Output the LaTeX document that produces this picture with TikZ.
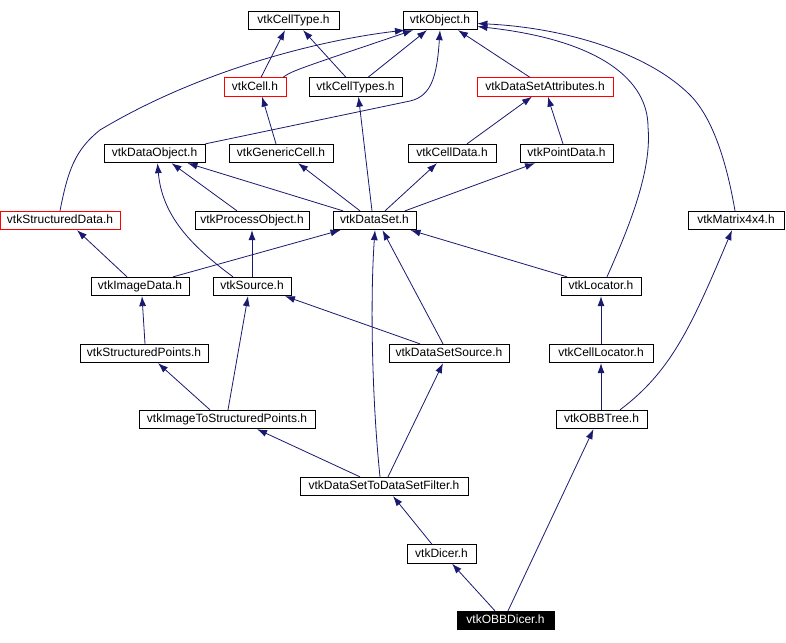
\documentclass[tikz,border=0pt]{standalone}
\usepackage{fontspec}
\setmainfont{Liberation Sans}
\usetikzlibrary{arrows.meta}

\definecolor{edgeblue}{HTML}{191970}

\tikzset{
    hdr/.style={draw=black, line width=0.8pt, fill=white, inner sep=0pt,
        minimum height=18.5pt, text height=9pt, text depth=3pt,
        font=\fontsize{12}{14}\selectfont},
    hdrred/.style={hdr, draw=red},
    hdrtop/.style={hdr, fill=black, text=white},
    dep/.style={draw=edgeblue, line width=0.8pt, -{Latex[length=10pt,width=7pt]}},
}

\begin{document}
\begin{tikzpicture}[x=1pt, y=-1pt]

    % --- Marco de la imagen (786 x 642) ---
    \useasboundingbox (0,0) rectangle (786,642);

    % =========================================================================
    % CABECERAS (una fila por nivel del grafo de inclusión)
    % =========================================================================
    \node[hdr, minimum width=91pt]     (ctype)  at (293.5,20.5) {vtkCellType.h};
    \node[hdr, minimum width=74pt]     (obj)    at (440,20.5)   {vtkObject.h};

    \node[hdrred, minimum width=62pt]  (cell)   at (255,87)     {vtkCell.h};
    \node[hdr, minimum width=93pt]     (ctypes) at (355.5,87)   {vtkCellTypes.h};
    \node[hdrred, minimum width=136pt] (dsattr) at (545,87)     {vtkDataSetAttributes.h};

    \node[hdr, minimum width=101pt]    (dobj)   at (154.5,153.5) {vtkDataObject.h};
    \node[hdr, minimum width=104pt]    (gcell)  at (281,153.5)   {vtkGenericCell.h};
    \node[hdr, minimum width=88pt]     (cdata)  at (452,153.5)   {vtkCellData.h};
    \node[hdr, minimum width=93pt]     (pdata)  at (566.5,153.5) {vtkPointData.h};

    \node[hdrred, minimum width=120pt] (sdata)  at (60,220.5)    {vtkStructuredData.h};
    \node[hdr, minimum width=114pt]    (pobj)   at (252,220.5)   {vtkProcessObject.h};
    \node[hdr, minimum width=83pt]     (ds)     at (374.5,220.5) {vtkDataSet.h};
    \node[hdr, minimum width=96pt]     (mat)    at (736,220.5)   {vtkMatrix4x4.h};

    \node[hdr, minimum width=98pt]     (idata)  at (140,286.5)   {vtkImageData.h};
    \node[hdr, minimum width=78pt]     (src)    at (252,286.5)   {vtkSource.h};
    \node[hdr, minimum width=80pt]     (loc)    at (601,286.5)   {vtkLocator.h};

    \node[hdr, minimum width=128pt]    (spts)   at (144,353.5)   {vtkStructuredPoints.h};
    \node[hdr, minimum width=120pt]    (dssrc)  at (449,353.5)   {vtkDataSetSource.h};
    \node[hdr, minimum width=104pt]    (cloc)   at (601,353.5)   {vtkCellLocator.h};

    \node[hdr, minimum width=176pt]    (i2sp)   at (227,419.5)   {vtkImageToStructuredPoints.h};
    \node[hdr, minimum width=91pt]     (obb)    at (601.5,419.5) {vtkOBBTree.h};

    \node[hdr, minimum width=168pt]    (filt)   at (384,486.5)   {vtkDataSetToDataSetFilter.h};
    \node[hdr, minimum width=69pt]     (dicer)  at (441.5,554)   {vtkDicer.h};
    \node[hdrtop, minimum width=97pt]  (obbd)   at (505.5,620.5) {vtkOBBDicer.h};

    % =========================================================================
    % DEPENDENCIAS (flecha hacia la cabecera incluida)
    % =========================================================================
    % 1. Hacia vtkCellType.h y vtkObject.h
    \draw[dep] ([xshift=6pt]cell.north) -- ([xshift=-8.5pt]ctype.south);
    \draw[dep] ([xshift=-9.5pt]ctypes.north) -- ([xshift=9.5pt]ctype.south);
    \draw[dep] ([xshift=28pt]cell.north) .. controls (292,71) .. ([xshift=-27pt]obj.south);
    \draw[dep] ([xshift=12.5pt]ctypes.north) -- ([xshift=-13pt]obj.south);
    \draw[dep] (dobj.north east) -- (410,101) .. controls (432,96) and (437,75) .. (obj.south);
    \draw[dep] (sdata.north) .. controls (68,170) and (75,150) .. (100,130)
        .. controls (200,70) and (320,40) .. ([xshift=-35pt]obj.south);
    \draw[dep] ([xshift=-15pt]dsattr.north) -- ([xshift=18pt]obj.south);
    \draw[dep] ([xshift=6pt]loc.north) .. controls (630,225) and (652,170) .. (648,127)
        .. controls (648,80) and (600,40) .. ([yshift=-6pt]obj.east);
    \draw[dep] ([xshift=-1pt]mat.north) .. controls (728,170) and (715,120) .. (690,95)
        .. controls (650,55) and (570,28) .. ([yshift=-3pt]obj.east);

    % 2. Segundo nivel
    \draw[dep] ([xshift=-5pt]gcell.north) -- ([xshift=7pt]cell.south);
    \draw[dep] ([xshift=15pt]cdata.north) -- ([xshift=-13pt]dsattr.south);
    \draw[dep] ([xshift=-3.5pt]pdata.north) .. controls (556,125) .. ([xshift=3pt]dsattr.south);

    % 3. Desde vtkDataSet.h
    \draw[dep] ([xshift=-31.5pt]ds.north) -- ([xshift=33pt]dobj.south);
    \draw[dep] ([xshift=-14.5pt]ds.north) -- ([xshift=17pt]gcell.south);
    \draw[dep] ([xshift=-2.5pt]ds.north) -- ([xshift=3pt]ctypes.south);
    \draw[dep] ([xshift=10.5pt]ds.north) -- ([xshift=-15pt]cdata.south);
    \draw[dep] ([xshift=30.5pt]ds.north) -- ([xshift=-31.5pt]pdata.south);

    % 4. Objetos de proceso y fuentes
    \draw[dep] ([xshift=-15pt]pobj.north) -- ([xshift=17pt]dobj.south);
    \draw[dep] ([xshift=-19pt]src.north) .. controls (190,245) and (162,215) .. ([xshift=3pt]dobj.south);
    \draw[dep] (src.north) -- (pobj.south);
    \draw[dep] ([xshift=-13pt]idata.north) -- ([xshift=17pt]sdata.south);
    \draw[dep] ([xshift=33pt]idata.north) -- ([xshift=-34pt]ds.south);
    \draw[dep] ([xshift=-34pt]loc.north) -- ([xshift=36pt]ds.south);
    \draw[dep] ([xshift=-6pt]dssrc.north) -- ([xshift=8pt]ds.south);
    \draw[dep] ([xshift=-29pt]dssrc.north) -- ([xshift=33pt]src.south);
    \draw[dep] ([xshift=1pt]spts.north) -- ([xshift=2pt]idata.south);
    \draw[dep] ([xshift=-17pt]i2sp.north) -- ([xshift=14pt]spts.south);
    \draw[dep] ([xshift=1pt]i2sp.north) -- ([xshift=-4pt]src.south);

    % 5. Filtro, localizadores y vtkOBBDicer.h
    \draw[dep] ([xshift=-4pt]filt.north) .. controls (372,400) and (370,300) .. ([xshift=0.5pt]ds.south);
    \draw[dep] ([xshift=-24pt]filt.north) -- ([xshift=30pt]i2sp.south);
    \draw[dep] ([xshift=4pt]filt.north) -- ([xshift=-6pt]dssrc.south);
    \draw[dep] (cloc.north) -- (loc.south);
    \draw[dep] ([xshift=-0.5pt]obb.north) -- (cloc.south);
    \draw[dep] ([xshift=18.5pt]obb.north) .. controls (670,372) and (690,330) .. ([xshift=-4pt]mat.south);
    \draw[dep] ([xshift=-9.5pt]dicer.north) .. controls (418,527) .. ([xshift=9pt]filt.south);
    \draw[dep] ([xshift=-10.5pt]obbd.north) -- ([xshift=10.5pt]dicer.south);
    \draw[dep] ([xshift=2.5pt]obbd.north) -- ([xshift=-8pt]obb.south);

\end{tikzpicture}
\end{document}
